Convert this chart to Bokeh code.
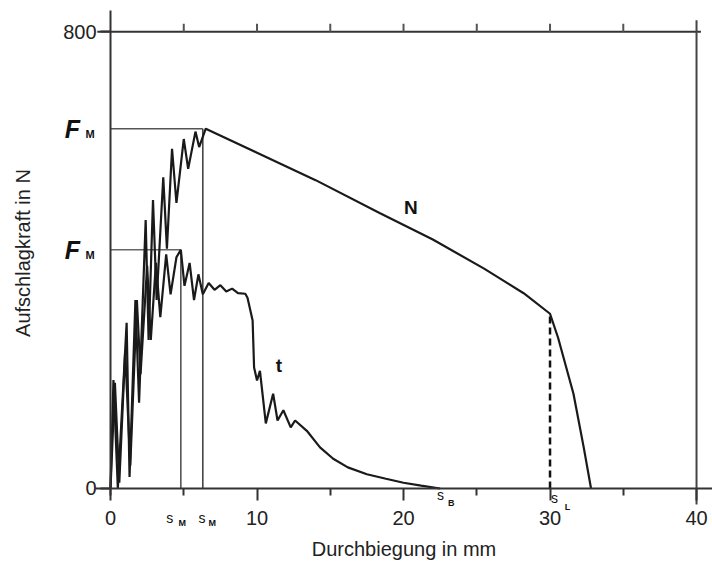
from bokeh.plotting import figure
from bokeh.models import Range1d, FixedTicker, Label
from bokeh.core.properties import value
from bokeh.embed import file_html
from bokeh.resources import INLINE

# ---- data (deflection in mm, force in N) ----
N_x = [0, 0.2, 0.5, 1.1, 1.3, 1.7, 1.95, 2.4, 2.6, 2.9, 3.15, 3.6, 3.85, 4.2, 4.5,
       5.0, 5.3, 5.8, 6.05, 6.5, 10, 14, 18.4, 22, 25.5, 28.2, 30.0, 30.55, 31.6, 32.3, 32.8]
N_y = [0, 190, 0, 290, 20, 330, 150, 470, 260, 505, 330, 545, 420, 595, 500,
       612, 560, 625, 598, 630, 588, 540, 482, 436, 385, 342, 306, 264, 166, 72, 0]

t_x = [0, 0.3, 0.6, 1.0, 1.35, 1.8, 2.05, 2.5, 2.75, 3.1, 3.4, 3.8, 4.1, 4.5, 4.8,
       5.05, 5.4, 5.7, 6.0, 6.3, 6.7, 7.1, 7.5, 7.9, 8.3, 8.7, 9.2, 9.35, 9.7, 9.8,
       10.0, 10.2, 10.6, 11.1, 11.4, 11.8, 12.3, 12.6, 13.4, 14.3, 15.2, 16.2, 17.5,
       18.8, 20.0, 21.2, 22.5]
t_y = [0, 185, 10, 240, 40, 330, 200, 390, 260, 395, 300, 410, 340, 405, 418,
       355, 395, 330, 375, 340, 360, 348, 356, 345, 350, 342, 341, 334, 294, 212,
       189, 206, 114, 166, 119, 137, 107, 119, 101, 72, 52, 37, 25,
       17, 10, 5, 0]

FM_N, sM_N = 630, 6.3      # maximum force / deflection, curve N
FM_t, sM_t = 418, 4.8      # maximum force / deflection, curve t
sL, FL = 30.0, 306         # dashed marker on curve N
sB = 22.5

x_ticks = [0, 10, 20, 30, 40]
x_minor = [5, 15, 25, 35]
y_ticks = [0, 800]
top_ticks = [5, 10, 15, 20, 25, 30, 35]

FONT = "Liberation Sans"
INK = "#1a1a1a"

# frame fills the whole canvas; axes are pinned at x=0 / y=0
p = figure(width=712, height=569, output_backend="svg", toolbar_location=None,
           x_range=Range1d(-7.509, 41.09), y_range=Range1d(-141.9, 854.6),
           min_border_left=0, min_border_right=0, min_border_top=0,
           min_border_bottom=0)
p.outline_line_color = None
p.grid.visible = False
p.background_fill_color = "white"

p.xaxis.fixed_location = 0
p.yaxis.fixed_location = 0
p.xaxis.bounds = (-1.0, 41.09)
p.yaxis.bounds = (-12, 837)

p.xaxis.ticker = FixedTicker(ticks=x_ticks, minor_ticks=x_minor)
p.xaxis.axis_label = "Durchbiegung in mm"
p.xaxis.major_tick_out = 12
p.xaxis.major_tick_in = 0
p.xaxis.minor_tick_out = 7
p.xaxis.minor_tick_in = 0
p.xaxis.major_label_standoff = 11

p.yaxis.ticker = FixedTicker(ticks=y_ticks)
p.yaxis.axis_label = "Aufschlagkraft in N"
p.yaxis.major_tick_out = 10
p.yaxis.major_tick_in = 0
p.yaxis.minor_tick_out = 0
p.yaxis.minor_tick_in = 0
p.yaxis.major_label_standoff = 4
p.yaxis.major_label_orientation = "horizontal"

for ax in (p.xaxis, p.yaxis):
    ax.axis_line_color = "#333333"
    ax.axis_line_width = 2
    ax.major_tick_line_color = "#333333"
    ax.major_tick_line_width = 2
    ax.minor_tick_line_color = "#333333"
    ax.minor_tick_line_width = 2
    ax.major_label_text_font = FONT
    ax.major_label_text_font_size = "20px"
    ax.major_label_text_color = "#222222"
    ax.axis_label_text_font = FONT
    ax.axis_label_text_font_size = "20px"
    ax.axis_label_text_font_style = "normal"
    ax.axis_label_text_color = "#222222"
p.xaxis.axis_label_standoff = 9
p.yaxis.axis_label_standoff = 26

# frame lines: top line at 800 with upward ticks and right line at 40 mm
p.line(x=[-0.9, 40.3], y=[800, 800], line_color="#333333", line_width=2)
p.segment(x0=top_ticks, y0=[800] * len(top_ticks), x1=top_ticks,
          y1=[814] * len(top_ticks), line_color="#555555", line_width=2)
p.line(x=[40, 40], y=[-28, 820], line_color="#444444", line_width=2)

# guide lines for maximum force
p.line(x=[0, sM_N], y=[FM_N, FM_N], line_color="#555555", line_width=1.6)
p.line(x=[sM_N, sM_N], y=[0, FM_N], line_color="#444444", line_width=1.6)
p.line(x=[0, sM_t], y=[FM_t, FM_t], line_color="#666666", line_width=1.6)
p.line(x=[sM_t, sM_t], y=[0, FM_t], line_color="#555555", line_width=1.6)

# dashed marker
p.line(x=[sL, sL], y=[0, FL], line_color="#111111", line_width=2.5, line_dash="7 4")

# curves
p.line(x=N_x, y=N_y, line_color=INK, line_width=2.2)
p.line(x=t_x, y=t_y, line_color=INK, line_width=2.2)

# curve names
p.text(x=[20.5, 11.5], y=[492, 215], text=["N", "t"], text_font=value(FONT),
       text_font_size="19px", text_font_style="bold", text_color="#111111",
       text_align="center", text_baseline="middle")

# margin labels
def lab(x, y, txt, size, style="normal"):
    p.add_layout(Label(x=x, y=y, text=txt, text_font=FONT, text_font_size=size,
                       text_font_style=style, text_color="#111111",
                       text_align="center", text_baseline="middle"))

for FM in (FM_N, FM_t):
    lab(-2.6, FM, "F", "25px", "bold italic")
    lab(-1.4, FM - 9, "M", "11px", "bold")

lab(sM_t - 0.75, -51, "s", "14px")
lab(sM_t + 0.1, -60, "M", "9px", "bold")
lab(sM_N - 0.05, -51, "s", "14px")
lab(sM_N + 0.65, -60, "M", "9px", "bold")

lab(sB + 0.03, -12, "s", "14px")
lab(sB + 0.75, -25, "B", "9px", "bold")
lab(sL + 0.3, -16, "s", "14px")
lab(sL + 1.2, -33, "L", "9px", "bold")

open("out.html", "w").write(file_html(p, INLINE))
